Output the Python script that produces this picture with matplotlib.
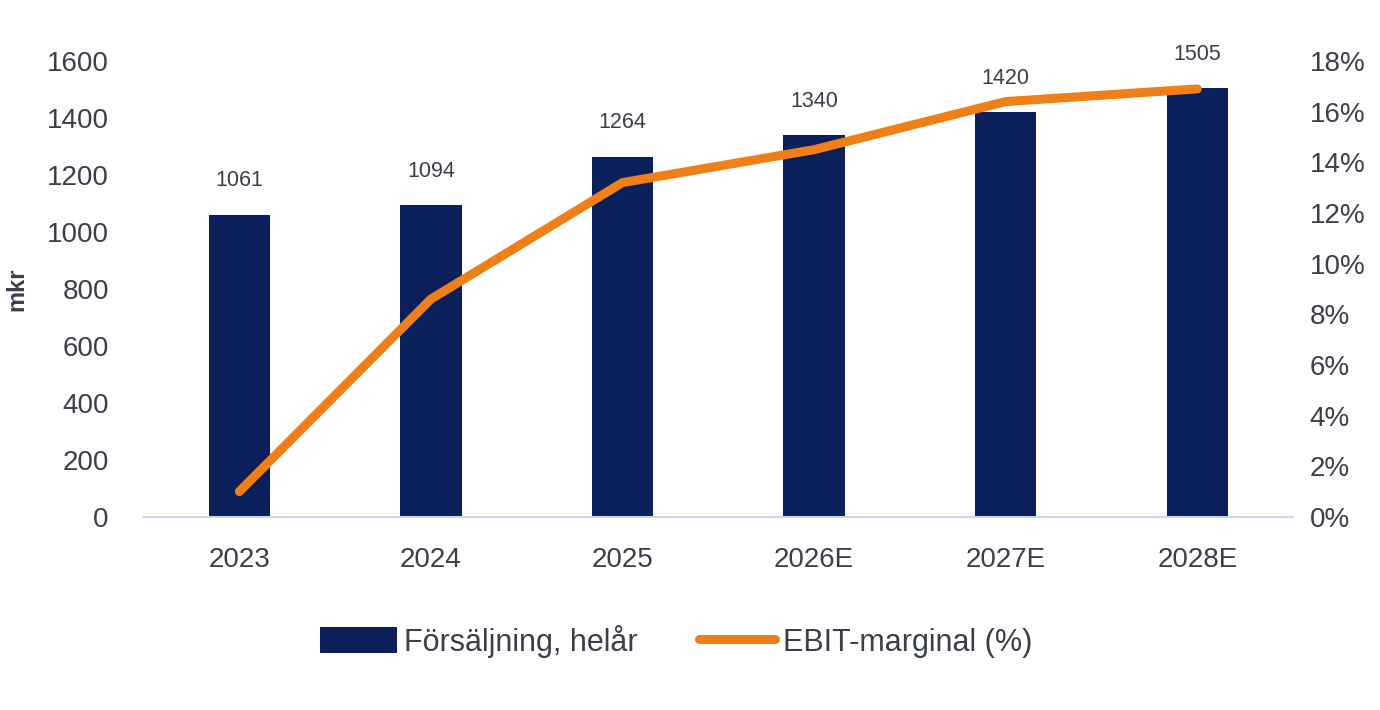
import matplotlib.pyplot as plt
import numpy as np

# data
years = ["2023", "2024", "2025", "2026E", "2027E", "2028E"]
sales = [1061, 1094, 1264, 1340, 1420, 1505]
ebit_margin = [1.0, 8.6, 13.2, 14.5, 16.4, 16.9]

navy = '#0b1f5a'
orange = '#f07f17'
txt = '#3a3f4a'

plt.rcParams['font.family'] = ['Liberation Sans', 'DejaVu Sans']

fig = plt.figure(figsize=(13.8, 7.1), dpi=100)
ax = fig.add_axes([0.104, 0.272, 0.833, 0.642])
x = np.arange(len(years))

bars = ax.bar(x, sales, 0.32, color=navy, label='Försäljning, helår', zorder=2)
for xi, v in zip(x, sales):
    ax.annotate(str(v), (xi, v), xytext=(0, 17), textcoords='offset points',
                ha='center', va='bottom', fontsize=15.5, color=txt)

ax.set_xlim(-0.5, 5.5)
ax.set_ylim(0, 1600)
ax.set_yticks(np.arange(0, 1601, 200))
ax.set_xticks(x, years)
ax.tick_params(length=0, labelsize=20, colors=txt)
ax.tick_params(axis='x', pad=22)
ax.tick_params(axis='y', pad=25)
for s in ['top', 'right', 'left']:
    ax.spines[s].set_visible(False)
ax.spines['bottom'].set_color('#c8d7ec')
ax.spines['bottom'].set_linewidth(1.5)
ax.set_ylabel('mkr', fontsize=17, fontweight='bold', color=txt)
ax.yaxis.set_label_coords(-0.1, 0.5)

ax2 = ax.twinx()
line, = ax2.plot(x, ebit_margin, color=orange, lw=6.5, solid_capstyle='round',
                 solid_joinstyle='round', label='EBIT-marginal (%)', zorder=3)
ax2.set_ylim(0, 18)
ax2.set_yticks(np.arange(0, 19, 2))
ax2.set_yticklabels([f"{v}%" for v in range(0, 19, 2)])
ax2.tick_params(length=0, labelsize=20, colors=txt, pad=12)
for s in ['top', 'right', 'left', 'bottom']:
    ax2.spines[s].set_visible(False)

leg = fig.legend([bars, line], ['Försäljning, helår', 'EBIT-marginal (%)'],
                 loc='center', bbox_to_anchor=(0.49, 0.097), ncol=2, frameon=False,
                 prop={'size': 22}, labelcolor=txt, handlelength=2.5, handleheight=0.9,
                 columnspacing=2.0, handletextpad=0.25)

fig.savefig('out.png', dpi=100)
